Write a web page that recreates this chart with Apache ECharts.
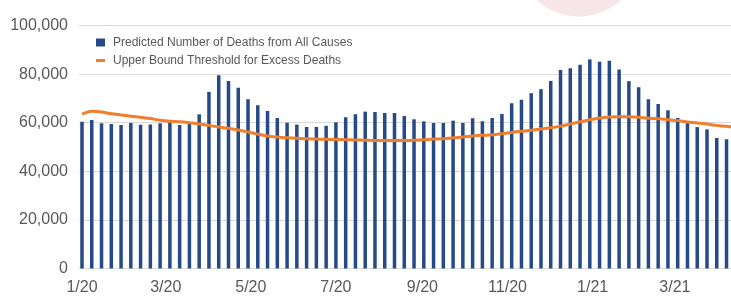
<!DOCTYPE html>
<html>
<head>
<meta charset="utf-8">
<script src="https://cdn.jsdelivr.net/npm/echarts@6/dist/echarts.min.js"></script>
<style>
html, body { margin: 0; padding: 0; background: #fff; }
#chart { width: 731px; height: 297px; }
</style>
</head>
<body>
<div id="chart"></div>
<script>
var DAY = 86400000;
var startDate = Date.parse('2020-01-01');

// weekly values, one per bar
var predicted = [
    60400, 61100, 59750, 59500, 59050, 59900, 59200, 59300, 59750, 60150,
    59050, 59750, 63450, 72700, 79550, 77200, 74350, 69650, 67200, 64850,
    61950, 60000, 59200, 58200, 58200, 58750, 60150, 62250, 63450, 64550,
    64400, 64000, 64000, 62750, 61400, 60550, 59900, 59900, 60850, 59900,
    61800, 60550, 61950, 63600, 68000, 69400, 72150, 73800, 77200, 81650,
    82450, 83850, 86050, 85050, 85500, 81900, 77100, 74600, 69650, 67700,
    65100, 61950, 60000, 58200, 57250, 53700, 53150
];
var threshold = [
    63500, 64700, 64400, 63700, 63200, 62700, 62200, 61700, 61000, 60600,
    60400, 60000, 59500, 58900, 58200, 57700, 57000, 56200, 55300, 54500,
    54100, 53800, 53600, 53400, 53300, 53150, 53100, 53000, 52900, 52800,
    52700, 52700, 52700, 52700, 52800, 53000, 53300, 53400, 53800, 54100,
    54500, 54800, 55000, 55450, 56000, 56450, 56850, 57400, 57900, 58600,
    59450, 60400, 61250, 61950, 62350, 62500, 62500, 62250, 61800, 61650,
    61250, 60850, 60300, 59900, 59450, 58900, 58500, 58000
];
var tickDates = ['2020-01-01', '2020-03-01', '2020-05-01', '2020-07-01',
    '2020-09-01', '2020-11-01', '2021-01-01', '2021-03-01'];
var tickLabels = ['1/20', '3/20', '5/20', '7/20', '9/20', '11/20', '1/21', '3/21'];

// x is measured in days from 1 Jan 2020, bars are one week apart
var weekDays = threshold.map(function (v, i) { return i * 7; });
var tickDays = tickDates.map(function (d) {
    return Math.round((Date.parse(d) - startDate) / DAY);
});

var font = '"Liberation Sans", Arial, sans-serif';
var grey = '#595959';

var chart = echarts.init(document.getElementById('chart'));

var option = {
    backgroundColor: '#ffffff',
    animation: false,
    textStyle: { fontFamily: font },
    graphic: [{
        type: 'circle',
        shape: { cx: 579, cy: -46, r: 62.5 },
        style: { fill: '#f6e6e9' },
        silent: true
    }],
    legend: {
        orient: 'vertical',
        left: 91,
        top: 31.5,
        itemWidth: 9,
        itemHeight: 8,
        itemGap: 6,
        selectedMode: false,
        textStyle: { fontSize: 12, color: grey, fontFamily: font, padding: [0, 0, 0, 3] },
        data: [
            { name: 'Predicted Number of Deaths from All Causes', icon: 'rect' },
            { name: 'Upper Bound Threshold for Excess Deaths', icon: 'path://M0,0H9V3H0Z' }
        ]
    },
    grid: {
        left: 79,
        right: 0,
        top: 25.5,
        bottom: 28.5,
        containLabel: false
    },
    xAxis: {
        type: 'value',
        min: -2.15,
        max: 465.2,
        axisLine: { lineStyle: { color: '#d9d9d9', width: 1 } },
        axisTick: { show: false },
        splitLine: { show: false },
        axisLabel: {
            customValues: tickDays,
            formatter: function (v) {
                var i = tickDays.indexOf(v);
                return i < 0 ? '' : tickLabels[i];
            },
            showMinLabel: true,
            showMaxLabel: true,
            margin: 11,
            fontSize: 16,
            color: grey,
            fontFamily: font
        }
    },
    yAxis: {
        type: 'value',
        min: 0,
        max: 100000,
        interval: 20000,
        axisLine: { show: false },
        axisTick: { show: false },
        splitLine: { lineStyle: { color: '#d9d9d9', width: 1 } },
        axisLabel: {
            margin: 11,
            fontSize: 16,
            color: grey,
            fontFamily: font,
            formatter: function (v) {
                return String(v).replace(/\B(?=(\d{3})+(?!\d))/g, ',');
            }
        }
    },
    series: [{
        name: 'Predicted Number of Deaths from All Causes',
        type: 'bar',
        barWidth: 3.5,
        itemStyle: { color: '#264a87' },
        data: predicted.map(function (v, i) { return [weekDays[i], v]; })
    }, {
        name: 'Upper Bound Threshold for Excess Deaths',
        type: 'line',
        smooth: 0.3,
        symbol: 'none',
        lineStyle: { width: 3, color: '#ef7f2d' },
        itemStyle: { color: '#ef7f2d' },
        data: threshold.map(function (v, i) { return [weekDays[i], v]; })
    }]
};

chart.setOption(option);
</script>
</body>
</html>
